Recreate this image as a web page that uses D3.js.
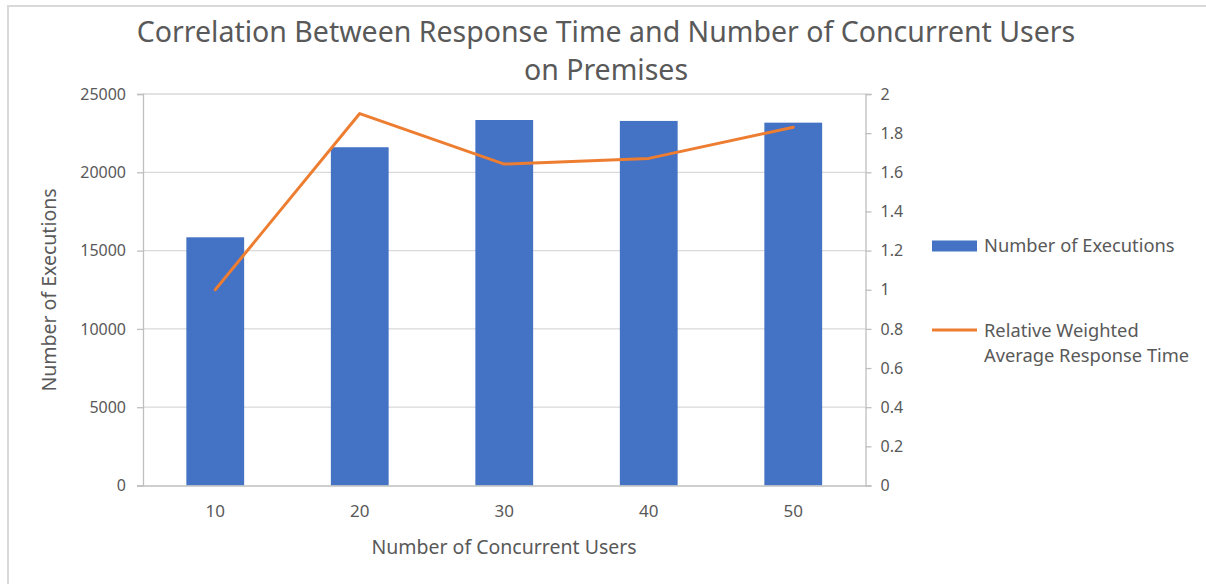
<!DOCTYPE html>
<html>
<head>
<meta charset="utf-8">
<script src="https://cdn.jsdelivr.net/npm/d3@7"></script>
<style>
  html, body { margin: 0; padding: 0; background: #fff; }
  svg { display: block; font-family: "Noto Sans", "Open Sans", sans-serif; }
</style>
</head>
<body>
<svg id="chart" width="1206" height="584"></svg>
<script>
const categories = ["10", "20", "30", "40", "50"];
const executions = [15850, 21600, 23340, 23280, 23170];
const responseTime = [1.0, 1.9, 1.642, 1.671, 1.83];
const leftTicks = [0, 5000, 10000, 15000, 20000, 25000];
const rightTicks = [0, 0.2, 0.4, 0.6, 0.8, 1, 1.2, 1.4, 1.6, 1.8, 2];
const titleLines = ["Correlation Between Response Time and Number of Concurrent Users", "on Premises"];
const seriesNames = ["Number of Executions", ["Relative Weighted", "Average Response Time"]];

const svg = d3.select("#chart");
const textColor = "#595959";
const gridColor = "#d9d9d9";
const axisColor = "#bfbfbf";
const barColor = "#4472c4";
const lineColor = "#ed7d31";

const plot = { left: 143, right: 865.5, top: 94, bottom: 485.5 };

// chart border
svg.append("rect").attr("x", 8).attr("y", 6).attr("width", 1210).attr("height", 600)
  .attr("fill", "none").attr("stroke", gridColor).attr("stroke-width", 2);

const x = d3.scaleBand().domain(categories).range([plot.left, plot.right]).paddingInner(0.6).paddingOuter(0.3);
const yL = d3.scaleLinear().domain([0, 25000]).range([plot.bottom, plot.top]);
const yR = d3.scaleLinear().domain([0, 2]).range([plot.bottom, plot.top]);

// gridlines
svg.append("g").selectAll("line").data(leftTicks.filter(d => d > 0)).join("line")
  .attr("x1", plot.left).attr("x2", plot.right)
  .attr("y1", d => yL(d)).attr("y2", d => yL(d))
  .attr("stroke", gridColor).attr("stroke-width", 1.3);

// left axis
const gL = svg.append("g").attr("transform", `translate(${plot.left},0)`)
  .call(d3.axisLeft(yL).tickValues(leftTicks).tickSize(6).tickPadding(11).tickFormat(d3.format("d")));
gL.select(".domain").attr("stroke", axisColor).attr("stroke-width", 1.3);
gL.selectAll(".tick line").attr("stroke", axisColor).attr("stroke-width", 1.3);
gL.selectAll("text").attr("fill", textColor).style("font-size", "16px").style("font-family", "Noto Sans");

// right axis
const gR = svg.append("g").attr("transform", `translate(${plot.right},0)`)
  .call(d3.axisRight(yR).tickValues(rightTicks).tickSize(6).tickPadding(9).tickFormat(d => d3.format("")(+d.toFixed(1))));
gR.select(".domain").attr("stroke", axisColor).attr("stroke-width", 1.3);
gR.selectAll(".tick line").attr("stroke", axisColor).attr("stroke-width", 1.3);
gR.selectAll("text").attr("fill", textColor).style("font-size", "16px").style("font-family", "Noto Sans");

// bars
svg.append("g").selectAll("rect").data(executions).join("rect")
  .attr("x", (d, i) => x(categories[i]))
  .attr("width", x.bandwidth())
  .attr("y", d => yL(d))
  .attr("height", d => yL(0) - yL(d))
  .attr("fill", barColor);

// bottom axis
const gB = svg.append("g").attr("transform", `translate(0,${plot.bottom})`)
  .call(d3.axisBottom(x).tickSize(0).tickPadding(19));
gB.select(".domain").attr("stroke", axisColor).attr("stroke-width", 1.3);
gB.selectAll("text").attr("fill", textColor).style("font-size", "17px").style("font-family", "Noto Sans");

// line
const line = d3.line().x((d, i) => x(categories[i]) + x.bandwidth() / 2).y(d => yR(d));
svg.append("path").datum(responseTime).attr("d", line)
  .attr("fill", "none").attr("stroke", lineColor).attr("stroke-width", 3).attr("stroke-linejoin", "round").attr("stroke-linecap", "round");

// title
svg.append("g").selectAll("text").data(titleLines).join("text")
  .attr("x", 606).attr("y", (d, i) => 42 + i * 38)
  .attr("text-anchor", "middle").attr("fill", textColor)
  .style("font-size", "28.5px").text(d => d);

// axis titles
svg.append("text").attr("x", 504).attr("y", 554).attr("text-anchor", "middle")
  .attr("fill", textColor).style("font-size", "19.5px").text("Number of Concurrent Users");
svg.append("text").attr("transform", "translate(56,290) rotate(-90)").attr("text-anchor", "middle")
  .attr("fill", textColor).style("font-size", "19.5px").text("Number of Executions");

// legend
const lg = svg.append("g");
lg.append("rect").attr("x", 932).attr("y", 240.5).attr("width", 45).attr("height", 11).attr("fill", barColor);
lg.append("text").attr("x", 984).attr("y", 252).attr("fill", textColor).style("font-size", "18.3px").text(seriesNames[0]);
lg.append("line").attr("x1", 932).attr("x2", 977).attr("y1", 330).attr("y2", 330)
  .attr("stroke", lineColor).attr("stroke-width", 3);
lg.append("text").attr("fill", textColor).style("font-size", "18.3px")
  .selectAll("tspan").data(seriesNames[1]).join("tspan")
  .attr("x", 984).attr("y", (d, i) => 336.5 + i * 25).text(d => d);
</script>
</body>
</html>
